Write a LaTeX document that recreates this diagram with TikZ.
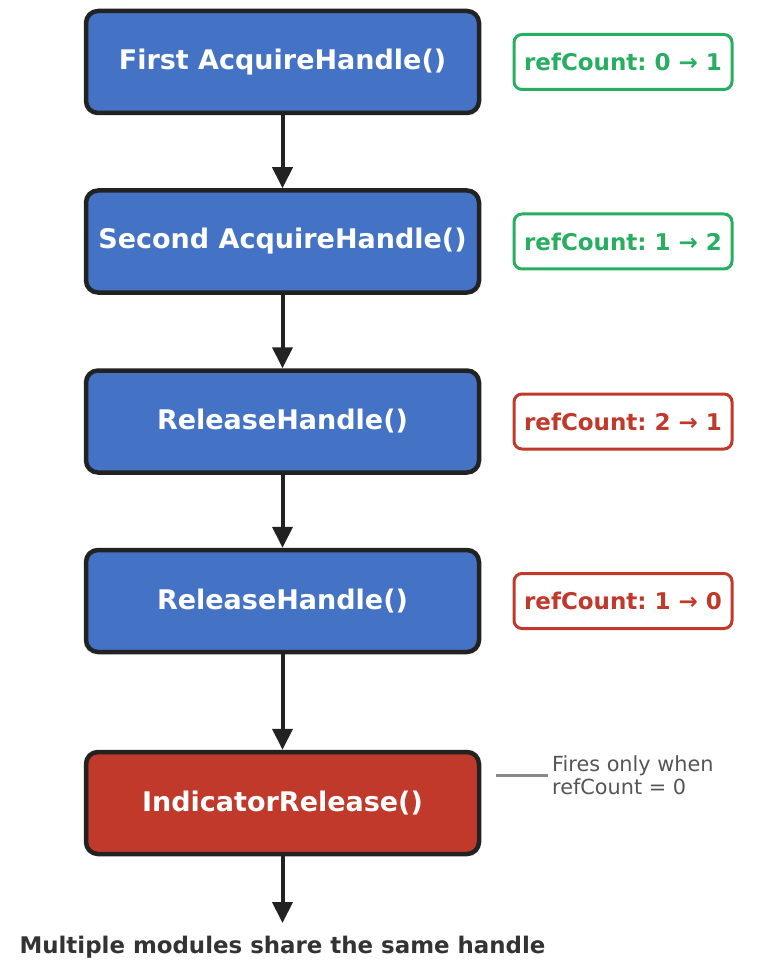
\documentclass[tikz,border=0pt]{standalone}
\usepackage{fontspec}
\setmainfont{DejaVu Sans}
\usetikzlibrary{arrows.meta}
\frenchspacing
\definecolor{boxblue}{HTML}{4472C4}
\definecolor{boxred}{HTML}{C0392B}
\definecolor{edgedark}{HTML}{222222}
\definecolor{okgreen}{HTML}{27AE60}
\definecolor{notegray}{HTML}{555555}
\definecolor{linegray}{HTML}{888888}
\definecolor{titlegray}{HTML}{333333}
\tikzset{
  stepbox/.style={draw=edgedark, line width=4.5pt, rounded corners=12pt,
    minimum width=393pt, minimum height=102pt, inner sep=0pt,
    text=white, font=\fontsize{27}{31}\selectfont\bfseries},
  countbox/.style={draw=#1, line width=3pt, rounded corners=8pt, fill=white,
    minimum width=218pt, minimum height=55pt, inner sep=0pt, text=#1,
    font=\fontsize{23}{27}\selectfont\bfseries},
  flow/.style={draw=edgedark, line width=4pt,
    -{Triangle[length=21pt,width=20pt]}},
}
\begin{document}
\begin{tikzpicture}[x=1pt,y=-1pt]
\useasboundingbox (0,0) rectangle (758,965);
\node[stepbox, fill=boxblue] (s1) at (282.5,62) {First AcquireHandle()};
\node[stepbox, fill=boxblue] (s2) at (282.5,241.5) {Second AcquireHandle()};
\node[stepbox, fill=boxblue] (s3) at (282.5,421.5) {ReleaseHandle()};
\node[stepbox, fill=boxblue] (s4) at (282.5,601) {ReleaseHandle()};
\node[stepbox, fill=boxred] (s5) at (282.5,803) {IndicatorRelease()};
\node[countbox=okgreen] (c1) at (623,62) {refCount: 0 → 1};
\node[countbox=okgreen] (c2) at (623,241.5) {refCount: 1 → 2};
\node[countbox=boxred] (c3) at (623,421.5) {refCount: 2 → 1};
\node[countbox=boxred] (c4) at (623,601) {refCount: 1 → 0};
\coordinate (end) at (282.5,923);
\draw[flow] (s1) -- (s2);
\draw[flow] (s2) -- (s3);
\draw[flow] (s3) -- (s4);
\draw[flow] (s4) -- (s5);
\draw[flow] (s5) -- (end);
\coordinate (la) at (496,775);
\coordinate (lb) at (548,775);
\draw[linegray, line width=3pt] (la) -- (lb);
\node[anchor=west, align=left, text=notegray, inner sep=0pt,
  font=\fontsize{20.8}{23}\selectfont] (note) at (552,775) {Fires only when\\refCount = 0};
\node[text=titlegray, inner sep=0pt, font=\fontsize{22.9}{26}\selectfont\bfseries]
  (title) at (282.5,947) {Multiple modules share the same handle};
\end{tikzpicture}
\end{document}
